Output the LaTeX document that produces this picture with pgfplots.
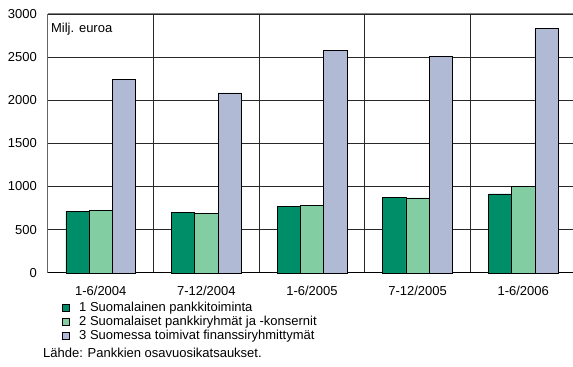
\documentclass[border=0pt]{standalone}
\usepackage{fontspec}
\setmainfont{Liberation Sans}
\usepackage{pgfplots}
\pgfplotsset{compat=1.18}
\definecolor{tumma}{RGB}{0,142,104}
\definecolor{vaalea}{RGB}{130,205,162}
\definecolor{sini}{RGB}{176,186,212}
\definecolor{viiva}{RGB}{40,40,40}
\begin{document}
\fontsize{13bp}{14bp}\selectfont
\begin{tikzpicture}
\begin{axis}[
  name=ax,
  scale only axis,
  width=525bp, height=259bp,
  xmin=-0.5, xmax=4.467,
  ymin=0, ymax=3000,
  ybar=0pt, bar width=23.3bp,
  xtick={0,...,4},
  xticklabels={1-6/2004,7-12/2004,1-6/2005,7-12/2005,1-6/2006},
  ytick={0,500,...,3000},
  minor xtick={0.5,1.5,2.5,3.5},
  xminorgrids=true, ymajorgrids=true,
  minor x grid style={viiva, line width=0.6pt},
  major y grid style={viiva, line width=0.6pt},
  axis x line*=bottom, axis y line*=left,
  x axis line style={black, line width=0.9pt},
  y axis line style={gray!80!black, line width=1pt},
  major tick length=0pt, minor tick length=0pt,
  tick label style={font=\fontsize{13bp}{14bp}\selectfont},
  xticklabel style={inner sep=0pt, anchor=center, yshift=-18bp},
  yticklabel style={inner sep=0pt, anchor=east, xshift=-11bp},
  /pgf/number format/assume math mode=true,
  /pgf/number format/1000 sep={},
  clip=false,
  legend style={
    at={(axis description cs:0.027,-0.112)}, anchor=north west,
    draw=none, fill=none, inner sep=0pt, outer sep=0pt,
    row sep=1.2bp,
    font=\fontsize{13bp}{14bp}\selectfont,
    nodes={inner sep=0.6bp, anchor=west},
  },
  legend cell align=left,
  legend image code/.code={%
    \draw[#1, draw=black, line width=0.5pt] (0bp,-3.5bp) rectangle (7bp,3.5bp);
    \path (16bp,0bp);},
]
\addplot[fill=tumma, draw=black, line width=0.5pt]
  coordinates {(0,710) (1,703) (2,770) (3,877) (4,915)};
\addplot[fill=vaalea, draw=black, line width=0.5pt]
  coordinates {(0,721) (1,691) (2,778) (3,869) (4,1004)};
\addplot[fill=sini, draw=black, line width=0.5pt]
  coordinates {(0,2244) (1,2085) (2,2575) (3,2505) (4,2834)};
\legend{1 Suomalainen pankkitoiminta,
        2 Suomalaiset pankkiryhmät ja -konsernit,
        3 Suomessa toimivat finanssiryhmittymät}
\draw[gray, line width=1pt] (rel axis cs:0,1) -- (rel axis cs:1,1);
\node[anchor=north west, inner sep=0pt] at (rel axis cs:0,1)
  [xshift=3bp, yshift=-9bp] {Milj. euroa};
\end{axis}
\path (ax.south west) ++(-48bp,-94bp) coordinate (bl);
\node[anchor=west, inner sep=0pt] at (bl) [xshift=43bp, yshift=14bp]
  {Lähde: Pankkien osavuosikatsaukset.};
\useasboundingbox (bl) rectangle ++(573bp,367bp);
\end{tikzpicture}
\end{document}
